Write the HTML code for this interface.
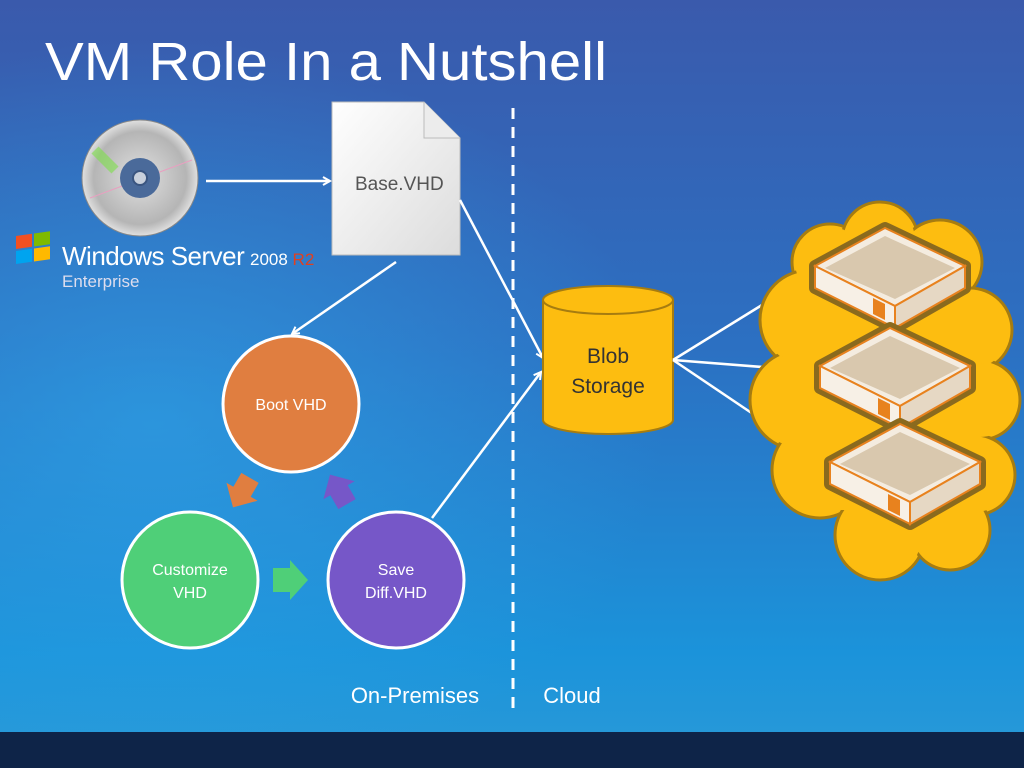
<!DOCTYPE html>
<html><head><meta charset="utf-8"><style>
html,body{margin:0;padding:0;width:1024px;height:768px;overflow:hidden}
svg{display:block}
text{font-family:"Liberation Sans",sans-serif}
</style></head><body>
<svg width="1024" height="768" viewBox="0 0 1024 768" xmlns="http://www.w3.org/2000/svg">
<defs>
<linearGradient id="bg" x1="0" y1="0" x2="0" y2="1">
<stop offset="0" stop-color="#3a5aac"/><stop offset="0.45" stop-color="#2c70c2"/><stop offset="0.85" stop-color="#1b93da"/><stop offset="1" stop-color="#2a9ad8"/>
</linearGradient>
<radialGradient id="glow" cx="0.15" cy="0.55" r="0.5"><stop offset="0" stop-color="#2fa8ea" stop-opacity="0.6"/><stop offset="1" stop-color="#2fa8ea" stop-opacity="0"/></radialGradient>
<linearGradient id="doc" x1="0" y1="0" x2="1" y2="1"><stop offset="0" stop-color="#ffffff"/><stop offset="1" stop-color="#dcdcdc"/></linearGradient>
<radialGradient id="cd" cx="0.5" cy="0.5" r="0.5"><stop offset="0.3" stop-color="#d0d0d0"/><stop offset="0.8" stop-color="#b5b5b5"/><stop offset="1" stop-color="#e0e0e0"/></radialGradient>
<marker id="ar" markerWidth="10" markerHeight="10" refX="8" refY="5" orient="auto" markerUnits="userSpaceOnUse"><path d="M1,1 L8,5 L1,9" fill="none" stroke="#fff" stroke-width="2"/></marker>
<g id="srv">
<polygon points="0,0 70,-38 150,0 150,22 80,62 0,22" fill="#8a6a1e" stroke="#8a6a1e" stroke-width="12" stroke-linejoin="round"/>
<polygon points="0,0 70,-38 150,0 80,40" fill="#f4ece0" stroke="#e8821e" stroke-width="2"/>
<polygon points="10,2 70,-30 140,2 80,33" fill="#d9c8ae"/>
<polygon points="0,0 80,40 80,62 0,22" fill="#f7f0e6" stroke="#e8821e" stroke-width="2"/>
<polygon points="80,40 150,0 150,22 80,62" fill="#e6d8c4" stroke="#e8821e" stroke-width="2"/>
<polygon points="58,32 70,38 70,54 58,48" fill="#e8821e"/>
</g>
</defs>
<rect width="1024" height="768" fill="url(#bg)"/>
<rect width="1024" height="768" fill="url(#glow)"/>
<rect x="0" y="732" width="1024" height="36" fill="#0e2448"/>
<text x="45" y="80" font-size="54" fill="#fff" textLength="562" lengthAdjust="spacingAndGlyphs">VM Role In a Nutshell</text>

<circle cx="140" cy="178" r="58" fill="url(#cd)" stroke="#888" stroke-width="1"/>
<path d="M95,150 L115,170" stroke="#7ee04a" stroke-width="10" opacity="0.6"/>
<line x1="90" y1="198" x2="192" y2="160" stroke="#e8a0c0" stroke-width="1"/>
<circle cx="140" cy="178" r="20" fill="#4a6a9a"/>
<circle cx="140" cy="178" r="7" fill="#c8d0dc" stroke="#3a5580" stroke-width="2"/>
<g transform="translate(16,232) skewY(-8)">
<rect x="0" y="4" width="16" height="13" fill="#f25022"/>
<rect x="18" y="4" width="16" height="13" fill="#7fba00"/>
<rect x="0" y="19" width="16" height="13" fill="#00a4ef"/>
<rect x="18" y="19" width="16" height="13" fill="#ffb900"/>
</g>
<text x="62" y="265" font-size="26" fill="#fff" letter-spacing="-0.5">Windows Server</text>
<text x="250" y="265" font-size="17" fill="#fff">2008 <tspan fill="#e04020">R2</tspan></text>
<text x="62" y="287" font-size="17" fill="#dde">Enterprise</text>

<path d="M332,102 L424,102 L460,138 L460,255 L332,255 Z" fill="url(#doc)" stroke="#bbb"/>
<path d="M424,102 L424,138 L460,138" fill="#ececec" stroke="#bbb"/>
<text x="355" y="190" font-size="19" fill="#555">Base.VHD</text>

<line x1="206" y1="181" x2="330" y2="181" stroke="#fff" stroke-width="2.5" marker-end="url(#ar)"/>
<line x1="396" y1="262" x2="292" y2="334" stroke="#fff" stroke-width="2.5" marker-end="url(#ar)"/>
<line x1="460" y1="200" x2="543" y2="358" stroke="#fff" stroke-width="2.5" marker-end="url(#ar)"/>
<line x1="432" y1="518" x2="541" y2="372" stroke="#fff" stroke-width="2.5" marker-end="url(#ar)"/>

<line x1="513" y1="108" x2="513" y2="712" stroke="#fff" stroke-width="3" stroke-dasharray="11,8"/>

<path d="M543,300 L543,420 A65,14 0 0 0 673,420 L673,300" fill="#fdbd10" stroke="#a67c10" stroke-width="2"/>
<ellipse cx="608" cy="300" rx="65" ry="14" fill="#fdbd10" stroke="#a67c10" stroke-width="2"/>
<text x="608" y="363" font-size="21" fill="#333" text-anchor="middle">Blob</text>
<text x="608" y="393" font-size="21" fill="#333" text-anchor="middle">Storage</text>

<line x1="673" y1="360" x2="762" y2="305" stroke="#fff" stroke-width="2.5"/>
<line x1="673" y1="360" x2="775" y2="368" stroke="#fff" stroke-width="2.5"/>
<line x1="673" y1="360" x2="762" y2="420" stroke="#fff" stroke-width="2.5"/>

<g fill="#fdbd10" stroke="#a67c10" stroke-width="3">
<circle cx="830" cy="262" r="38"/><circle cx="880" cy="240" r="38"/><circle cx="940" cy="262" r="42"/>
<circle cx="810" cy="320" r="50"/><circle cx="970" cy="330" r="42"/>
<circle cx="800" cy="400" r="50"/><circle cx="980" cy="400" r="40"/>
<circle cx="820" cy="470" r="48"/><circle cx="975" cy="475" r="40"/>
<circle cx="880" cy="535" r="45"/><circle cx="950" cy="530" r="40"/>
</g>
<g fill="#fdbd10">
<circle cx="830" cy="262" r="35"/><circle cx="880" cy="240" r="35"/><circle cx="940" cy="262" r="39"/>
<circle cx="810" cy="320" r="47"/><circle cx="970" cy="330" r="39"/>
<circle cx="800" cy="400" r="47"/><circle cx="980" cy="400" r="37"/>
<circle cx="820" cy="470" r="45"/><circle cx="975" cy="475" r="37"/>
<circle cx="880" cy="535" r="42"/><circle cx="950" cy="530" r="37"/>
<rect x="815" y="260" width="140" height="250"/>
<rect x="790" y="300" width="190" height="180"/>
</g>
<use href="#srv" x="815" y="266"/>
<use href="#srv" x="820" y="366"/>
<use href="#srv" x="830" y="462"/>

<circle cx="291" cy="404" r="68" fill="#e07e40" stroke="#fff" stroke-width="3"/>
<text x="291" y="410" font-size="16" fill="#fff" text-anchor="middle">Boot VHD</text>
<circle cx="190" cy="580" r="68" fill="#4fcf78" stroke="#fff" stroke-width="3"/>
<text x="190" y="575" font-size="16" fill="#fff" text-anchor="middle">Customize</text>
<text x="190" y="598" font-size="16" fill="#fff" text-anchor="middle">VHD</text>
<circle cx="396" cy="580" r="68" fill="#7657c8" stroke="#fff" stroke-width="3"/>
<text x="396" y="575" font-size="16" fill="#fff" text-anchor="middle">Save</text>
<text x="396" y="598" font-size="16" fill="#fff" text-anchor="middle">Diff.VHD</text>
<polygon points="273,568 290,568 290,560 308,580 290,600 290,592 273,592" fill="#4fcf78"/>
<g transform="translate(243,490) rotate(120)"><polygon points="-14,-10 2,-10 2,-18 20,0 2,18 2,10 -14,10" fill="#e07e40"/></g>
<g transform="translate(340,492) rotate(-120)"><polygon points="-14,-10 2,-10 2,-18 20,0 2,18 2,10 -14,10" fill="#7657c8"/></g>

<text x="415" y="703" font-size="22" fill="#fff" text-anchor="middle">On-Premises</text>
<text x="572" y="703" font-size="22" fill="#fff" text-anchor="middle">Cloud</text>
</svg>
</body></html>
